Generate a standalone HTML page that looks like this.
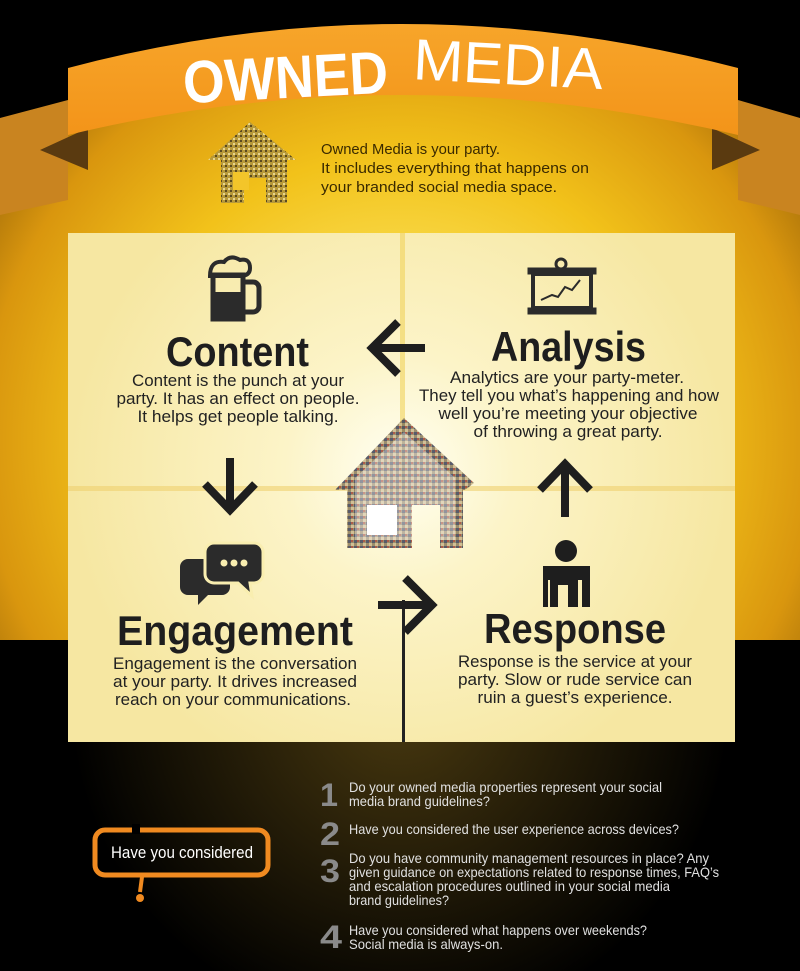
<!DOCTYPE html>
<html><head><meta charset="utf-8"><style>
html,body{margin:0;padding:0;background:#000;}
svg{display:block}
text{font-family:"Liberation Sans",sans-serif;}
</style></head><body>
<svg width="800" height="971" viewBox="0 0 800 971" xmlns="http://www.w3.org/2000/svg">
<defs>
<radialGradient id="bg" cx="400" cy="440" r="520" gradientUnits="userSpaceOnUse">
<stop offset="0" stop-color="#fffbe0"/><stop offset="0.25" stop-color="#fbe25a"/><stop offset="0.55" stop-color="#f2c21a"/><stop offset="0.8" stop-color="#d9960e"/><stop offset="1" stop-color="#8a5a08"/>
</radialGradient>
<radialGradient id="pn" cx="400" cy="470" r="330" gradientUnits="userSpaceOnUse">
<stop offset="0" stop-color="#fffff2"/><stop offset="0.35" stop-color="#fcf4c8"/><stop offset="1" stop-color="#f6e7a2"/>
</radialGradient>
<radialGradient id="glow" cx="400" cy="700" r="330" gradientUnits="userSpaceOnUse">
<stop offset="0" stop-color="#4a3a10"/><stop offset="1" stop-color="#000"/>
</radialGradient>
<linearGradient id="rib" x1="0" y1="0" x2="0" y2="1">
<stop offset="0" stop-color="#f7a52a"/><stop offset="1" stop-color="#f39419"/>
</linearGradient>
<pattern id="mos" width="6" height="6" patternUnits="userSpaceOnUse">
<rect width="6" height="6" fill="#8a7a5a"/><rect width="3" height="3" fill="#3b3f55"/><rect x="3" y="3" width="3" height="3" fill="#c9b58a"/><rect x="3" width="2" height="2" fill="#a04030"/>
</pattern>
<pattern id="mos2" width="5" height="5" patternUnits="userSpaceOnUse">
<rect width="5" height="5" fill="#b89a3a"/><rect width="2" height="2" fill="#5a4a20"/><rect x="3" y="3" width="2" height="2" fill="#e8d690"/>
</pattern>
</defs>
<rect width="800" height="971" fill="#000"/>
<rect x="0" y="640" width="800" height="331" fill="url(#glow)"/>
<path d="M0 640 L0 130 Q400 40 800 130 L800 640 Z" fill="url(#bg)"/>
<path d="M0 118 L68 100 L68 200 L0 215 Z" fill="#c98420"/>
<path d="M800 118 L738 100 L738 200 L800 215 Z" fill="#c98420"/>
<path d="M40 150 L88 128 L88 170 Z" fill="#5a3a10"/>
<path d="M760 150 L712 128 L712 170 Z" fill="#5a3a10"/>
<path d="M68 68 Q400 -20 738 68 L738 135 Q400 55 68 135 Z" fill="url(#rib)"/>
<text x="183" y="98" font-size="60" font-weight="bold" fill="#fff" textLength="205" lengthAdjust="spacingAndGlyphs" transform="rotate(-3 285 78)">OWNED</text>
<text x="413" y="84" font-size="58" fill="#fff" textLength="190" lengthAdjust="spacingAndGlyphs" transform="rotate(3 505 70)">MEDIA</text>
<path d="M250 122 L296 160 L287 160 L287 203 L266 203 L266 178 L244 178 L244 203 L221 203 L221 160 L208 160 Z" fill="url(#mos2)"/>
<rect x="233" y="172" width="16" height="18" fill="#f3c52a"/>
<g font-size="15" fill="#3a2a00">
<text x="321" y="154" textLength="179" lengthAdjust="spacingAndGlyphs">Owned Media is your party.</text>
<text x="321" y="173" textLength="268" lengthAdjust="spacingAndGlyphs">It includes everything that happens on</text>
<text x="321" y="192" textLength="236" lengthAdjust="spacingAndGlyphs">your branded social media space.</text></g>
<rect x="68" y="233" width="667" height="509" fill="url(#pn)"/>
<rect x="400" y="233" width="5" height="255" fill="#f0d25a" opacity="0.6"/>
<rect x="68" y="486" width="667" height="5" fill="#eed070" opacity="0.6"/>
<rect x="402" y="600" width="3" height="142" fill="#222"/>
<g fill="#2b2b2b"><path d="M213 275 h30 v44 h-30 z" fill="none" stroke="#2b2b2b" stroke-width="5"/><rect x="215" y="292" width="26" height="26"/><path d="M243 282 h10 a6 6 0 0 1 6 6 v18 a6 6 0 0 1 -6 6 h-10" fill="none" stroke="#2b2b2b" stroke-width="5"/><path d="M210 276 q0 -16 14 -14 q6 -8 16 -2 q10 -2 10 8 q0 8 -10 8 h-28 z" fill="none" stroke="#2b2b2b" stroke-width="4"/></g>
<g stroke="#2b2b2b" fill="none"><circle cx="561" cy="264" r="5" stroke-width="3"/><rect x="528" y="268" width="68" height="6" fill="#2b2b2b"/><rect x="533" y="274" width="58" height="34" stroke-width="4"/><rect x="528" y="308" width="68" height="6" fill="#2b2b2b"/><polyline points="541,300 552,295 558,297 565,287 572,290 580,280" stroke-width="2"/></g>
<g stroke="#1e1e1e" stroke-width="8" fill="none">
<path d="M425 348 H375 M398 322 L372 348 L398 374"/>
<path d="M230 458 V508 M205 484 L230 510 L255 484"/>
<path d="M565 517 V465 M540 490 L565 464 L590 490"/>
<path d="M378 605 H430 M405 578 L432 605 L405 632"/>
</g>
<g fill="#2b2b2b"><path d="M188 559 h34 a8 8 0 0 1 8 8 v20 a8 8 0 0 1 -8 8 h-14 l-10 10 v-10 h-10 a8 8 0 0 1 -8 -8 v-20 a8 8 0 0 1 8 -8z"/><path d="M214 543 h40 a9 9 0 0 1 9 9 v22 a9 9 0 0 1 -9 9 h-4 l2 13 l-14 -13 h-24 a9 9 0 0 1 -9 -9 v-22 a9 9 0 0 1 9 -9z" stroke="#f9eeb0" stroke-width="3"/><circle cx="224" cy="563" r="3.5" fill="#f9eeb0"/><circle cx="234" cy="563" r="3.5" fill="#f9eeb0"/><circle cx="244" cy="563" r="3.5" fill="#f9eeb0"/></g>
<g fill="#1e1e1e"><circle cx="566" cy="551" r="11"/><path d="M543 566 h47 v41 h-8 v-27 h-4 v27 h-10 v-22 h-10 v22 h-8 v-27 h-2 v27 h-5 z"/></g>
<path d="M404 418 L474 483 L465 490 L463 490 L463 548 L440 548 L440 505 L412 505 L412 548 L347 548 L347 490 L335 490 Z" fill="url(#mos)" opacity="0.85"/>
<path d="M404 432 L455 478 L455 540 L440 540 L440 505 L412 505 L412 540 L355 540 L355 478 Z" fill="#fff" opacity="0.35"/>
<rect x="367" y="505" width="30" height="30" fill="#fff"/>
<g fill="#1e1e1e" font-weight="bold" font-size="42">
<text x="166" y="366" textLength="143" lengthAdjust="spacingAndGlyphs">Content</text>
<text x="491" y="361" textLength="155" lengthAdjust="spacingAndGlyphs">Analysis</text>
<text x="117" y="645" textLength="236" lengthAdjust="spacingAndGlyphs">Engagement</text>
<text x="484" y="643" textLength="182" lengthAdjust="spacingAndGlyphs">Response</text>
</g>
<g font-size="17" fill="#222" text-anchor="middle">
<text x="238" y="386" textLength="212" lengthAdjust="spacingAndGlyphs">Content is the punch at your</text>
<text x="238" y="404" textLength="243" lengthAdjust="spacingAndGlyphs">party. It has an effect on people.</text>
<text x="238" y="422" textLength="201" lengthAdjust="spacingAndGlyphs">It helps get people talking.</text>
<text x="567" y="383" textLength="234" lengthAdjust="spacingAndGlyphs">Analytics are your party-meter.</text>
<text x="569" y="401" textLength="300" lengthAdjust="spacingAndGlyphs">They tell you what’s happening and how</text>
<text x="568" y="419" textLength="259" lengthAdjust="spacingAndGlyphs">well you’re meeting your objective</text>
<text x="568" y="437" textLength="189" lengthAdjust="spacingAndGlyphs">of throwing a great party.</text>
<text x="235" y="669" textLength="244" lengthAdjust="spacingAndGlyphs">Engagement is the conversation</text>
<text x="235" y="687" textLength="244" lengthAdjust="spacingAndGlyphs">at your party. It drives increased</text>
<text x="233" y="705" textLength="236" lengthAdjust="spacingAndGlyphs">reach on your communications.</text>
<text x="575" y="667" textLength="234" lengthAdjust="spacingAndGlyphs">Response is the service at your</text>
<text x="575" y="685" textLength="234" lengthAdjust="spacingAndGlyphs">party. Slow or rude service can</text>
<text x="575" y="703" textLength="195" lengthAdjust="spacingAndGlyphs">ruin a guest’s experience.</text>
</g>
<rect x="95" y="830" width="173" height="45" rx="10" fill="none" stroke="#f08a20" stroke-width="5"/>
<rect x="132" y="824" width="8" height="10" fill="#000"/>
<path d="M142 877 L140 892" stroke="#f08a20" stroke-width="4"/>
<circle cx="140" cy="898" r="4" fill="#f08a20"/>
<text x="111" y="858" font-size="17" fill="#fff" textLength="142" lengthAdjust="spacingAndGlyphs">Have you considered</text>
<g font-weight="bold" font-size="32" fill="#8a8a8a">
<text x="320" y="806" textLength="18" lengthAdjust="spacingAndGlyphs">1</text><text x="320" y="845" textLength="20" lengthAdjust="spacingAndGlyphs">2</text><text x="320" y="882" textLength="20" lengthAdjust="spacingAndGlyphs">3</text><text x="320" y="948" textLength="22" lengthAdjust="spacingAndGlyphs">4</text></g>
<g font-size="14" fill="#e0e0e0">
<text x="349" y="792" textLength="313" lengthAdjust="spacingAndGlyphs">Do your owned media properties represent your social</text>
<text x="349" y="806" textLength="141" lengthAdjust="spacingAndGlyphs">media brand guidelines?</text>
<text x="349" y="834" textLength="330" lengthAdjust="spacingAndGlyphs">Have you considered the user experience across devices?</text>
<text x="349" y="863" textLength="360" lengthAdjust="spacingAndGlyphs">Do you have community management resources in place?  Any</text>
<text x="349" y="877" textLength="370" lengthAdjust="spacingAndGlyphs">given guidance on expectations related to response times, FAQ’s</text>
<text x="349" y="891" textLength="321" lengthAdjust="spacingAndGlyphs">and escalation procedures outlined in your social media</text>
<text x="349" y="905" textLength="100" lengthAdjust="spacingAndGlyphs">brand guidelines?</text>
<text x="349" y="935" textLength="298" lengthAdjust="spacingAndGlyphs">Have you considered what happens over weekends?</text>
<text x="349" y="949" textLength="154" lengthAdjust="spacingAndGlyphs">Social media is always-on.</text>
</g>
</svg>
</body></html>
